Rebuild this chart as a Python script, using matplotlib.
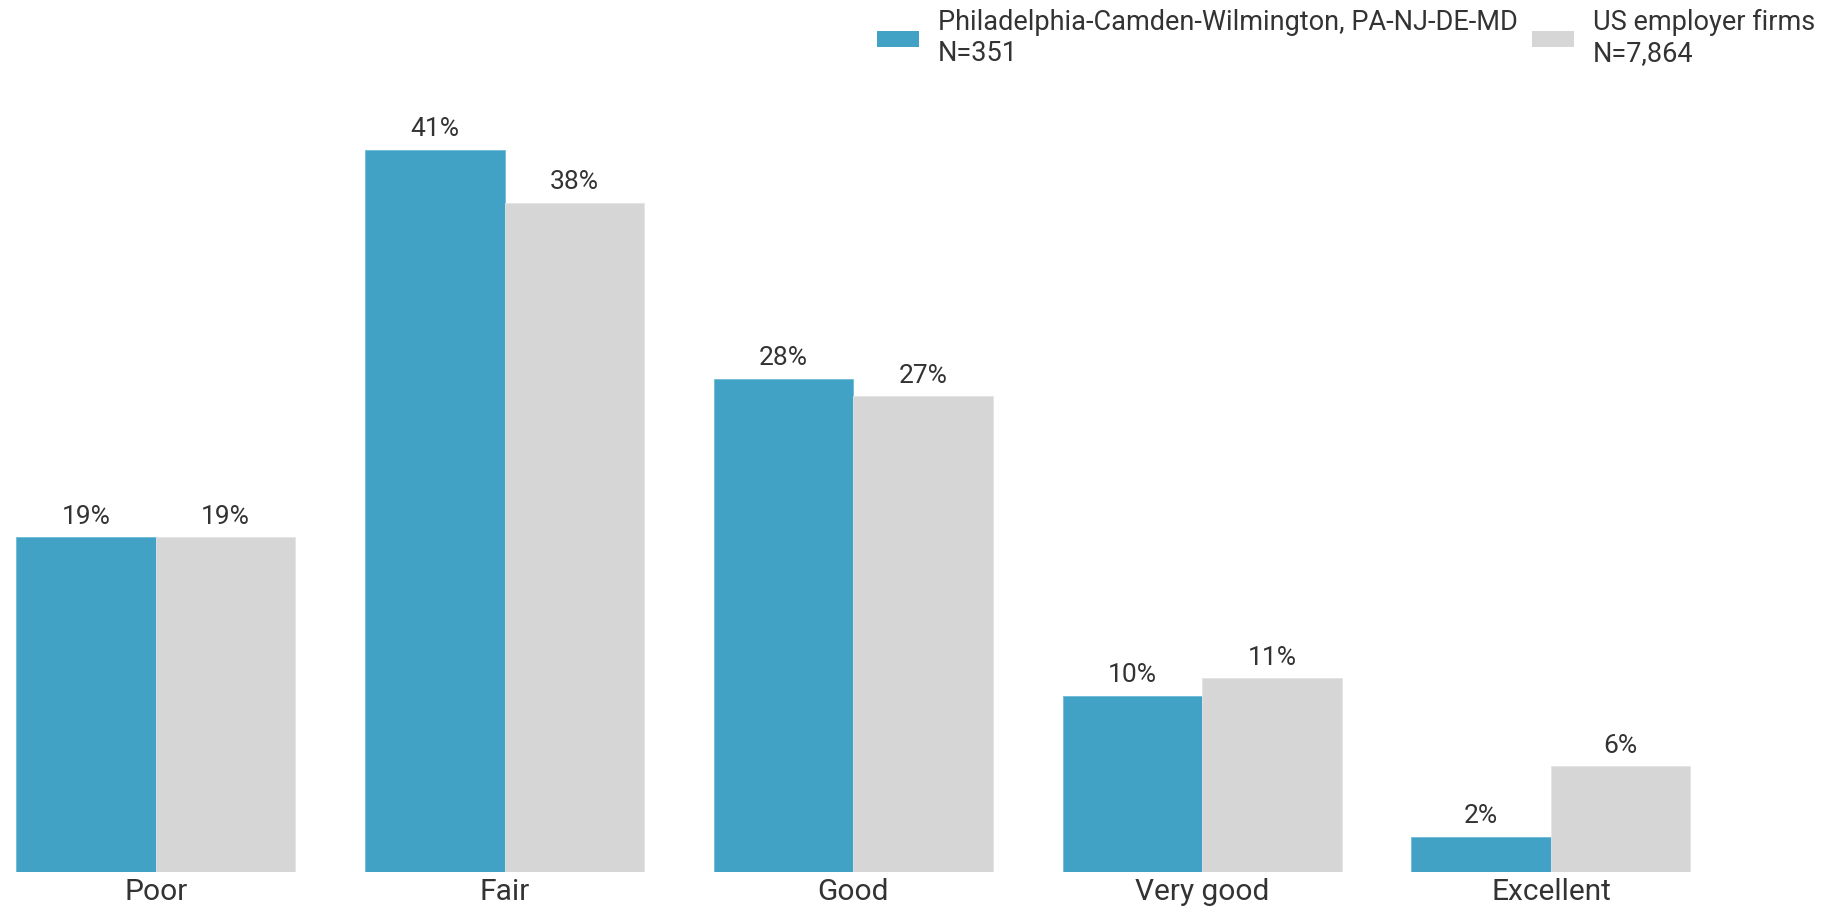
import matplotlib.pyplot as plt
import numpy as np
from matplotlib.patches import Patch

plt.rcParams['font.family'] = ['Roboto', 'DejaVu Sans']

categories = ["Poor", "Fair", "Good", "Very good", "Excellent"]
philly = [19, 41, 28, 10, 2]
us_firms = [19, 38, 27, 11, 6]
series_names = ["Philadelphia-Camden-Wilmington, PA-NJ-DE-MD\nN=351", "US employer firms\nN=7,864"]

blue = "#42a2c6"
gray = "#d6d6d6"
text_col = "#333333"

fig = plt.figure(figsize=(18.45, 9.14), dpi=100)
ax = fig.add_axes([0, 0.046, 1, 0.954])

x = np.arange(len(categories))
w = 0.4
b1 = ax.bar(x - w / 2, philly, w, color=blue, edgecolor="#6cbbd8", linewidth=0.6)
b2 = ax.bar(x + w / 2, us_firms, w, color=gray, edgecolor="#e4e4e4", linewidth=0.6)

for bars, vals in [(b1, philly), (b2, us_firms)]:
    for r, v in zip(bars, vals):
        ax.annotate(f"{v}%", (r.get_x() + r.get_width() / 2, v), xytext=(0, 6),
                    textcoords="offset points", ha="center", va="bottom",
                    fontsize=19, color=text_col)

ax.set_xlim(-0.447, 4.843)
ax.set_ylim(0, 49.5)
ax.set_xticks(x)
ax.set_xticklabels(categories, fontsize=21.5, color=text_col)
ax.tick_params(axis="x", length=0, pad=4)
ax.set_yticks([])
for s in ax.spines.values():
    s.set_visible(False)

handles = [Patch(facecolor=blue), Patch(facecolor=gray)]
fig.legend(handles, series_names, loc="upper right", bbox_to_anchor=(0.984, 0.99),
           ncol=2, frameon=False, fontsize=19.5, labelcolor=text_col,
           handlelength=1.55, handleheight=0.55, handletextpad=0.7, columnspacing=0.55,
           borderpad=0, borderaxespad=0, labelspacing=0.3)

fig.savefig("out.png", dpi=100)
